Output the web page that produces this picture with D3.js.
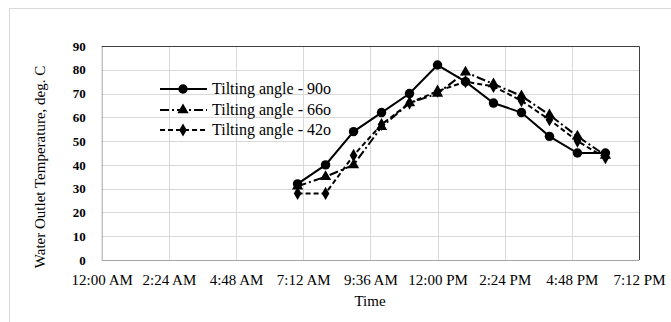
<!DOCTYPE html>
<html><head><meta charset="utf-8">
<script src="https://cdn.jsdelivr.net/npm/d3@7"></script>
<style>body{margin:0;background:#fff}svg{display:block}svg text{font-family:"Liberation Serif","Times New Roman",Times,serif !important;fill:#000}</style>
</head><body><svg id="c" width="671" height="322"></svg>
<script>
const hours = [7, 8, 9, 10, 11, 12, 13, 14, 15, 16, 17, 18];
const angle90 = [32, 40, 54, 62, 70, 82, 75, 66, 62, 52, 45, 45];
const angle66 = [31, 35, 40, 56, 66, 70, 79, 74, 69, 61, 52, 44];
const angle42 = [28, 28, 44, 57, 66, 71, 75, 73, 67, 59, 50, 43];
const seriesNames = ["Tilting angle - 90o", "Tilting angle - 66o", "Tilting angle - 42o"];
const yTicks = [0, 10, 20, 30, 40, 50, 60, 70, 80, 90];
const xTickMinutes = [0, 144, 288, 432, 576, 720, 864, 1008, 1152];

const svg = d3.select("#c");
const L = 101.7, R = 639, T = 46, B = 260;
const day = new Date(2000, 0, 1, 0, 0);
const toDate = m => new Date(day.getTime() + m * 60000);
const x = d3.scaleTime().domain([toDate(0), toDate(1152)]).range([L, R]);
const y = d3.scaleLinear().domain([0, 90]).range([B, T]);

// outer chart border
svg.append("path").attr("d", "M9.5,322 V8.5 H671").attr("fill", "none").attr("stroke", "#d9d9d9");

// gridlines
const g = svg.append("g");
g.selectAll(".hg").data(yTicks.slice(1, -1)).join("line")
  .attr("x1", L).attr("x2", R).attr("y1", d => Math.round(y(d)) + 0.5).attr("y2", d => Math.round(y(d)) + 0.5)
  .attr("stroke", "#d9d9d9");
g.selectAll(".vg").data(xTickMinutes.slice(1, -1)).join("line")
  .attr("y1", T).attr("y2", B).attr("x1", d => Math.round(x(toDate(d))) + 0.5).attr("x2", d => Math.round(x(toDate(d))) + 0.5)
  .attr("stroke", "#d9d9d9");

// plot borders
svg.append("path").attr("d", `M${L},${B + 0.5} H${R}`).attr("stroke", "#a6a6a6").attr("fill", "none");
svg.append("path").attr("d", `M${L + 0.5},${B} V${T}`).attr("stroke", "#a6a6a6").attr("fill", "none");
svg.append("path").attr("d", `M${L},${T + 0.5} H${R + 0.5} V${B}`).attr("stroke", "#404040").attr("fill", "none");

// axes
const fmt = d3.timeFormat("%-I:%M %p");
const xAxis = d3.axisBottom(x).tickValues(xTickMinutes.map(toDate)).tickFormat(fmt).tickSize(0).tickPadding(14);
const xa = svg.append("g").attr("transform", `translate(0,${B})`).call(xAxis);
xa.select(".domain").remove();
xa.attr("font-family", null).attr("font-size", 15);
xa.selectAll("text").attr("fill", "#000");

const yAxis = d3.axisLeft(y).tickValues(yTicks).tickSize(0).tickPadding(16);
const ya = svg.append("g").attr("transform", `translate(${L},0)`).call(yAxis);
ya.select(".domain").remove();
ya.attr("font-family", null).attr("font-size", 13).attr("font-weight", "bold");
ya.selectAll("text").attr("fill", "#000");

// titles
svg.append("text").attr("x", 370).attr("y", 306).attr("text-anchor", "middle").attr("font-size", 15).text("Time");
svg.append("text").attr("transform", "translate(45,167) rotate(-90)").attr("text-anchor", "middle").attr("font-size", 15)
  .text("Water Outlet Temperature, deg. C");

// series
const series = [
  {vals: angle90, dash: null, sym: d3.symbolCircle, size: 70},
  {vals: angle66, dash: "9,3,2,3", sym: d3.symbolTriangle, size: 55},
  {vals: angle42, dash: "5,3", sym: d3.symbolDiamond, size: 50}
];
const line = d3.line().x(d => x(toDate(d[0] * 60))).y(d => y(d[1]));
series.forEach(s => {
  const pts = hours.map((h, i) => [h, s.vals[i]]);
  svg.append("path").attr("d", line(pts)).attr("fill", "none").attr("stroke", "#000").attr("stroke-width", 2)
    .attr("stroke-dasharray", s.dash);
  svg.append("g").selectAll("path").data(pts).join("path")
    .attr("transform", d => `translate(${x(toDate(d[0] * 60))},${y(d[1])})`)
    .attr("d", d3.symbol(s.sym, s.size)).attr("fill", "#000");
});

// legend
const legY = [89, 110, 130];
series.forEach((s, i) => {
  const lg = svg.append("g").attr("transform", `translate(0,${legY[i]})`);
  lg.append("line").attr("x1", 160).attr("x2", 207).attr("y1", 0).attr("y2", 0)
    .attr("stroke", "#000").attr("stroke-width", 2).attr("stroke-dasharray", s.dash);
  lg.append("path").attr("transform", "translate(183,0)").attr("d", d3.symbol(s.sym, s.size)).attr("fill", "#000");
  lg.append("text").attr("x", 212).attr("y", 5).attr("font-size", 16).text(seriesNames[i]);
});
</script></body></html>
